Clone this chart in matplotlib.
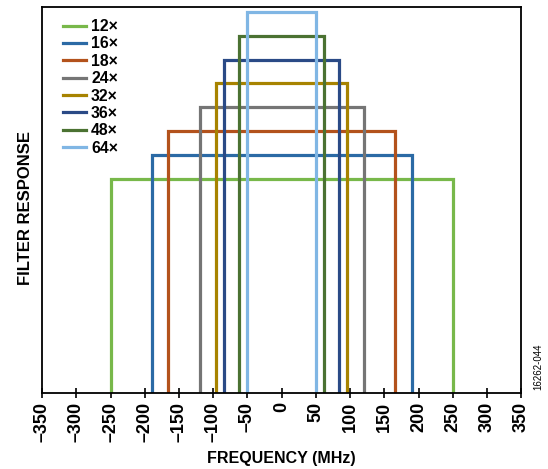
import matplotlib.pyplot as plt
import numpy as np

plt.rcParams['font.family'] = ['Liberation Sans', 'DejaVu Sans']

# decimation ratios, passband half-width (MHz) and relative height
labels = ['12×', '16×', '18×', '24×', '32×', '36×', '48×', '64×']
half_width = [250, 190, 166, 120, 96, 84, 62, 50]
height = [0.555, 0.617, 0.679, 0.741, 0.803, 0.864, 0.925, 0.987]
colors = ['#78b84a', '#2b6aa5', '#b3521c', '#757575',
          '#a78300', '#2a4a86', '#4b7232', '#80b6e4']
xticks = np.arange(-350, 351, 50)

fig = plt.figure(figsize=(5.48, 4.69), dpi=100)
ax = fig.add_axes([0.077, 0.162, 0.874, 0.823])

for lab, w, h, c in zip(labels, half_width, height, colors):
    ax.plot([-w, -w, w, w], [0, h, h, 0], color=c, lw=2.3, label=lab,
            solid_joinstyle='miter')

ax.set_xlim(-350, 350)
ax.set_ylim(0, 1.0)
ax.set_xticks(xticks)
ax.set_xticklabels([str(t).replace('-', '\u2013') for t in xticks],
                   rotation=90, fontsize=13, fontweight='bold')
ax.set_yticks([])
ax.tick_params(axis='x', direction='inout', length=7, width=1.2, pad=3)
for s in ax.spines.values():
    s.set_linewidth(1.3)

ax.set_xlabel('FREQUENCY (MHz)', fontsize=11.5, fontweight='bold', labelpad=6)
ax.set_ylabel('FILTER RESPONSE', fontsize=12, fontweight='bold')
ax.yaxis.set_label_coords(-0.02, 0.48)

ax.legend(loc='upper left', frameon=False, handlelength=1.5,
          prop={'weight': 'bold', 'size': 11.3}, labelspacing=0.15,
          bbox_to_anchor=(0.03, 0.985), borderaxespad=0,
          handletextpad=0.3)

fig.text(0.983, 0.217, '16262-044', rotation=90, fontsize=7,
         ha='center', va='center')

fig.savefig('out.png', dpi=100)
